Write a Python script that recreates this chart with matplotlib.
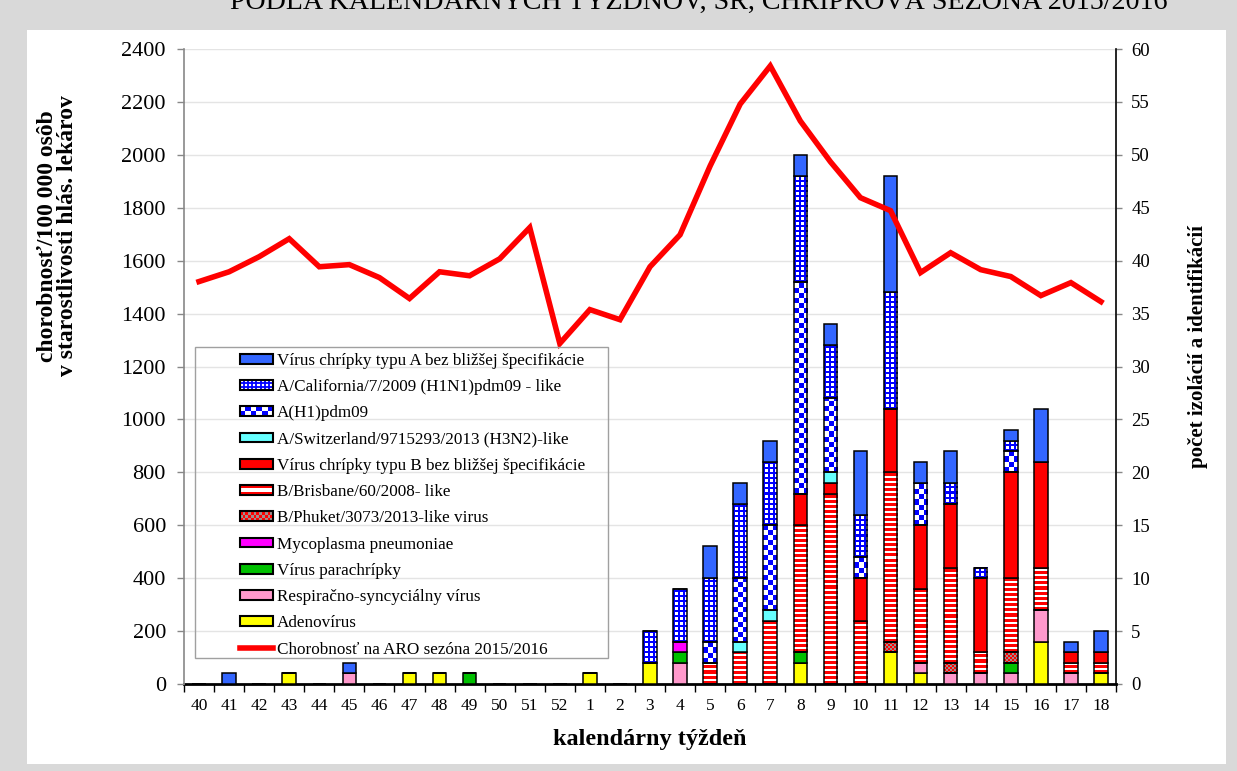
import numpy as np
import matplotlib
matplotlib.use('Agg')
import matplotlib.pyplot as plt
from matplotlib.patches import Rectangle, Patch
from matplotlib.lines import Line2D
from matplotlib.legend_handler import HandlerBase

plt.rcParams['font.family'] = ['Liberation Serif', 'DejaVu Serif']

# ---------------- data ----------------
weeks = ['40', '41', '42', '43', '44', '45', '46', '47', '48', '49', '50', '51', '52',
         '1', '2', '3', '4', '5', '6', '7', '8', '9', '10', '11', '12', '13', '14',
         '15', '16', '17', '18']

adeno    = [0, 0, 0, 1, 0, 0, 0, 1, 1, 0, 0, 0, 0, 1, 0, 2, 0, 0, 0, 0, 2, 0, 0, 3, 1, 0, 0, 0, 4, 0, 1]
rsv      = [0, 0, 0, 0, 0, 1, 0, 0, 0, 0, 0, 0, 0, 0, 0, 0, 2, 0, 0, 0, 0, 0, 0, 0, 1, 1, 1, 1, 3, 1, 0]
para     = [0, 0, 0, 0, 0, 0, 0, 0, 0, 1, 0, 0, 0, 0, 0, 0, 1, 0, 0, 0, 1, 0, 0, 0, 0, 0, 0, 1, 0, 0, 0]
myco     = [0, 0, 0, 0, 0, 0, 0, 0, 0, 0, 0, 0, 0, 0, 0, 0, 1, 0, 0, 0, 0, 0, 0, 0, 0, 0, 0, 0, 0, 0, 0]
phuket   = [0, 0, 0, 0, 0, 0, 0, 0, 0, 0, 0, 0, 0, 0, 0, 0, 0, 0, 0, 0, 0, 0, 0, 1, 0, 1, 0, 1, 0, 0, 0]
brisbane = [0, 0, 0, 0, 0, 0, 0, 0, 0, 0, 0, 0, 0, 0, 0, 0, 0, 2, 3, 6, 12, 18, 6, 16, 7, 9, 2, 7, 4, 1, 1]
b_unspec = [0, 0, 0, 0, 0, 0, 0, 0, 0, 0, 0, 0, 0, 0, 0, 0, 0, 0, 0, 0, 3, 1, 4, 6, 6, 6, 7, 10, 10, 1, 1]
swiss    = [0, 0, 0, 0, 0, 0, 0, 0, 0, 0, 0, 0, 0, 0, 0, 0, 0, 0, 1, 1, 0, 1, 0, 0, 0, 0, 0, 0, 0, 0, 0]
ah1      = [0, 0, 0, 0, 0, 0, 0, 0, 0, 0, 0, 0, 0, 0, 0, 0, 0, 2, 6, 8, 20, 7, 2, 0, 4, 0, 0, 2, 0, 0, 0]
calif    = [0, 0, 0, 0, 0, 0, 0, 0, 0, 0, 0, 0, 0, 0, 0, 3, 5, 6, 7, 6, 10, 5, 4, 11, 0, 2, 1, 1, 0, 0, 0]
a_unspec = [0, 1, 0, 0, 0, 1, 0, 0, 0, 0, 0, 0, 0, 0, 0, 0, 0, 3, 2, 2, 2, 2, 6, 11, 2, 3, 0, 1, 5, 1, 2]

morbidity = [1521, 1558, 1615, 1683, 1577, 1585, 1536, 1457, 1558, 1543, 1607, 1725, 1287,
             1415, 1377, 1577, 1698, 1958, 2192, 2336, 2128, 1974, 1838, 1789, 1555, 1630,
             1566, 1540, 1468, 1517, 1445]

labels = ['Vírus chrípky typu A bez bližšej špecifikácie',
          'A/California/7/2009 (H1N1)pdm09 - like',
          'A(H1)pdm09',
          'A/Switzerland/9715293/2013 (H3N2)-like',
          'Vírus chrípky typu B bez bližšej špecifikácie',
          'B/Brisbane/60/2008- like',
          'B/Phuket/3073/2013-like virus',
          'Mycoplasma pneumoniae',
          'Vírus parachrípky',
          'Respiračno-syncyciálny vírus',
          'Adenovírus']
line_label = 'Chorobnosť na ARO sezóna 2015/2016'

# stacking order (bottom -> top): (values, colour, pattern kind, legend index)
BLUE_A = '#3366FF'
stack = [
    (adeno,    '#FFFF00', 'solid',   10),
    (rsv,      '#FF99CC', 'solid',   9),
    (para,     '#00C000', 'solid',   8),
    (myco,     '#FF00FF', 'solid',   7),
    (phuket,   '#FF0000', 'phuket',  6),
    (brisbane, '#FF0000', 'stripes', 5),
    (b_unspec, '#FF0000', 'solid',   4),
    (swiss,    '#66FFFF', 'solid',   3),
    (ah1,      '#0000FF', 'checker', 2),
    (calif,    '#0000FF', 'grid',    1),
    (a_unspec, BLUE_A,    'solid',   0),
]

# ---------------- figure ----------------
W_PX, H_PX = 1237, 771
fig = plt.figure(figsize=(W_PX / 100, H_PX / 100), dpi=100, facecolor='#D9D9D9')
fig.patches.append(Rectangle((27 / W_PX, 1 - 764 / H_PX), 1199 / W_PX, 734 / H_PX,
                             transform=fig.transFigure, facecolor='white',
                             edgecolor='none', zorder=-10))

fig.text(699 / W_PX, 1 - 9 / H_PX,
         'PODĽA KALENDÁRNYCH TÝŽDŇOV, SR, CHRÍPKOVÁ SEZÓNA 2015/2016',
         ha='center', va='baseline', fontsize=20.2)

ax_rect = [184 / W_PX, 1 - 684 / H_PX, (1116 - 184) / W_PX, (684 - 49) / H_PX]
axb = fig.add_axes(ax_rect)
axb.set_facecolor('none')
axl = axb.twinx()
axl.set_facecolor('none')

n = len(weeks)
x = np.arange(n)
axb.set_xlim(-0.5, n - 0.5)
axb.set_ylim(0, 60)
axl.set_ylim(0, 2400)

# grid
axb.set_axisbelow(True)
axb.set_yticks(np.arange(0, 61, 5))
axb.yaxis.grid(True, color='#E4E4E4', lw=1.0)
axb.yaxis.tick_right()

axl.yaxis.tick_left()
axl.set_yticks(np.arange(0, 2401, 200))


def pattern_img(kind, color, W, H):
    yy, xx = np.mgrid[0:H, 0:W]
    img = np.ones((H, W, 3))
    c = np.array(matplotlib.colors.to_rgb(color))
    if kind == 'grid':
        m = (xx % 5 < 2) | (yy % 5 < 2)
        img[m] = c
    elif kind == 'checker':
        m = ((xx // 5 + yy // 5) % 2) == 0
        img[m] = c
    elif kind == 'stripes':
        m = (yy % 5) < 3
        img[m] = c
    elif kind == 'phuket':
        img[:] = c
        m = ((xx // 2 + yy // 2) % 2) == 0
        img[m] = np.array([0.62, 0.55, 0.55])
    return img


bar_w = 0.45
bottom = np.zeros(n)
for vals, color, kind, _ in stack:
    vals = np.array(vals, dtype=float)
    if kind == 'solid':
        axb.bar(x, vals, bar_w, bottom=bottom, color=color, edgecolor='black',
                linewidth=1.1, zorder=3)
    else:
        bars = axb.bar(x, vals, bar_w, bottom=bottom, facecolor='none',
                       edgecolor='black', linewidth=1.1, zorder=3)
        for r in bars:
            if r.get_height() <= 0:
                continue
            x0, y0, w, h = r.get_x(), r.get_y(), r.get_width(), r.get_height()
            p0 = axb.transData.transform((x0, y0))
            p1 = axb.transData.transform((x0 + w, y0 + h))
            Wp = max(1, int(round(p1[0] - p0[0])))
            Hp = max(1, int(round(p1[1] - p0[1])))
            axb.imshow(pattern_img(kind, color, Wp, Hp), extent=(x0, x0 + w, y0, y0 + h),
                       origin='lower', aspect='auto', interpolation='nearest', zorder=2)
    bottom = bottom + vals

axb.set_xlim(-0.5, n - 0.5)
axb.set_ylim(0, 60)

axl.plot(x, morbidity, color='#FF0000', lw=4, zorder=5, solid_joinstyle='miter')
axl.set_ylim(0, 2400)

# ticks
axb.set_xticks(x)
axb.set_xticklabels(weeks)
axb.set_xticks(np.arange(-0.5, n, 1.0), minor=True)
axb.tick_params(axis='x', which='major', length=0, pad=10, labelsize=12.5)
axb.tick_params(axis='x', which='minor', length=6, width=1.0, direction='out', color='black')
axb.tick_params(axis='y', which='major', length=4, width=1.0, direction='out',
                pad=7, labelsize=13.5, color='#888888')
axl.tick_params(axis='y', which='major', length=5, width=1.0, direction='out',
                pad=8, labelsize=16, color='#888888')

for s in ['top', 'left']:
    axb.spines[s].set_visible(False)
axb.spines['right'].set_color('black')
axb.spines['right'].set_linewidth(1.2)
axb.spines['bottom'].set_color('black')
axb.spines['bottom'].set_linewidth(2.0)
for s in ['top', 'right', 'bottom']:
    axl.spines[s].set_visible(False)
axl.spines['left'].set_color('#888888')
axl.spines['left'].set_linewidth(1.2)

# axis titles
fig.text(57.5 / W_PX, 1 - 236 / H_PX,
         'chorobnosť/100 000 osôb\nv starostlivosti hlás. lekárov',
         rotation=90, ha='center', va='center', fontsize=17, fontweight='bold',
         linespacing=0.95, multialignment='center')
fig.text(1198 / W_PX, 1 - 347 / H_PX, 'počet izolácií a identifikácií',
         rotation=90, ha='center', va='center', fontsize=15, fontweight='bold')
fig.text(650 / W_PX, 1 - 740 / H_PX, 'kalendárny týždeň',
         ha='center', va='center', fontsize=17.5, fontweight='bold')


# ---------------- legend ----------------
class PatternHandler(HandlerBase):
    def __init__(self, kind, color):
        super().__init__()
        self.kind = kind
        self.color = color

    def create_artists(self, legend, orig_handle, xdescent, ydescent, width, height,
                       fontsize, trans):
        x0, y0 = -xdescent, -ydescent
        arts = []
        if self.kind == 'solid':
            arts.append(Rectangle((x0, y0), width, height, facecolor=self.color,
                                  edgecolor='none', transform=trans))
        elif self.kind == 'grid':
            arts.append(Rectangle((x0, y0), width, height, facecolor='white',
                                  edgecolor='none', transform=trans))
            nc = 8
            for i in range(1, nc):
                xi = x0 + width * i / nc
                arts.append(Line2D([xi, xi], [y0, y0 + height], color=self.color,
                                   lw=1.3, transform=trans))
            for j in (1, 2):
                yj = y0 + height * j / 3
                arts.append(Line2D([x0, x0 + width], [yj, yj], color=self.color,
                                   lw=1.3, transform=trans))
        elif self.kind in ('checker', 'phuket'):
            if self.kind == 'checker':
                nc, nr, ca, cb = 6, 2, self.color, 'white'
            else:
                nc, nr, ca, cb = 12, 3, self.color, '#9E8C8C'
            cw, ch = width / nc, height / nr
            for i in range(nc):
                for j in range(nr):
                    arts.append(Rectangle((x0 + i * cw, y0 + j * ch), cw, ch,
                                          facecolor=ca if (i + j) % 2 == 0 else cb,
                                          edgecolor='none', transform=trans))
        elif self.kind == 'stripes':
            nb = 3
            bh = height / nb
            for j in range(nb):
                arts.append(Rectangle((x0, y0 + j * bh), width, bh,
                                      facecolor=self.color if j % 2 == 0 else 'white',
                                      edgecolor='none', transform=trans))
        arts.append(Rectangle((x0, y0), width, height, facecolor='none',
                              edgecolor='black', lw=1.5, transform=trans))
        return arts


handles = [None] * len(labels)
hmap = {}
for vals, color, kind, li in stack:
    h = Patch(facecolor=color)
    handles[li] = h
    hmap[h] = PatternHandler(kind, color)
line_handle = Line2D([], [], color='#FF0000', lw=4)
handles.append(line_handle)

# legend frame (reference frame is wider on the left than the entries need)
fig.patches.append(Rectangle((195 / W_PX, 1 - 658 / H_PX), 413 / W_PX, 311 / H_PX,
                             transform=fig.transFigure, facecolor='none',
                             edgecolor='#A0A0A0', lw=1.0, zorder=9))

leg = axl.legend(handles, labels + [line_label], handler_map=hmap,
                 loc='upper left', bbox_to_anchor=(233 / W_PX, 1 - 346 / H_PX),
                 bbox_transform=fig.transFigure, borderaxespad=0,
                 fontsize=12.3, frameon=False, handlelength=1.95,
                 handleheight=0.5, handletextpad=0.2, labelspacing=0.6,
                 borderpad=0.4)
leg.set_zorder(10)

fig.savefig('out.png', dpi=100, facecolor=fig.get_facecolor())
